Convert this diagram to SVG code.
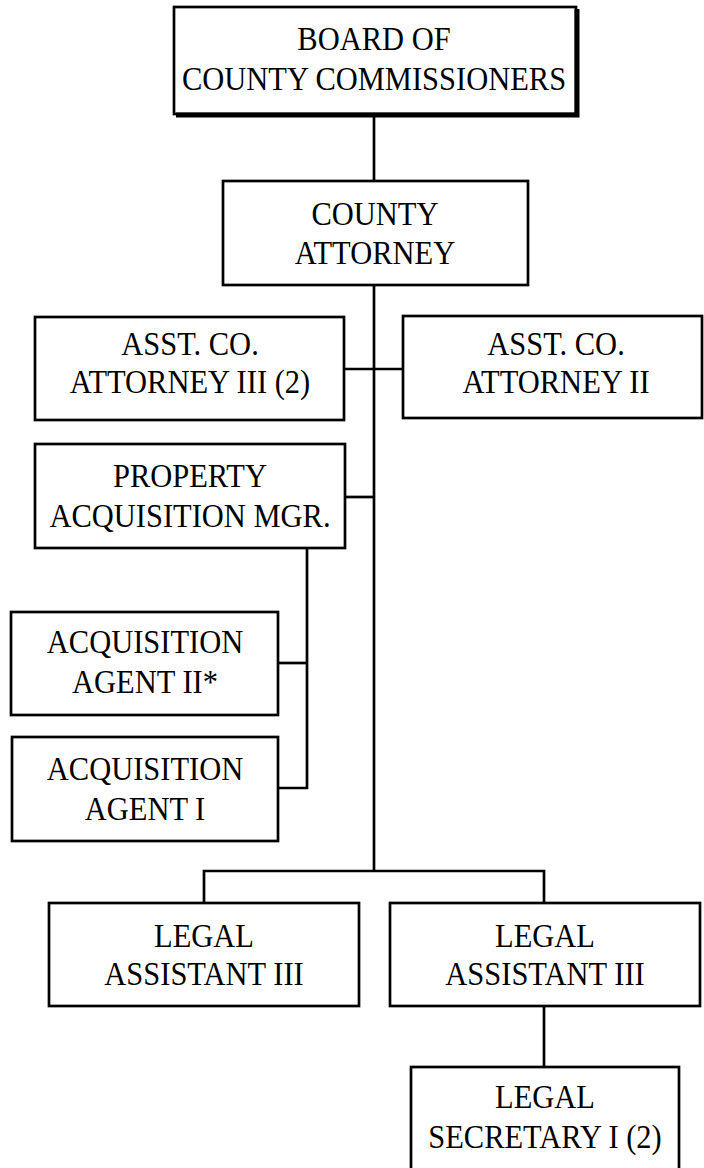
<svg xmlns="http://www.w3.org/2000/svg" width="704" height="1168" viewBox="0 0 704 1168">
  <style>
    .box { fill: #ffffff; stroke: #000000; stroke-width: 2.7; }
    .shadow { fill: none; stroke: #000000; stroke-width: 5; }
    .link { fill: none; stroke: #000000; stroke-width: 2.7; }
    .label { font-family: "Liberation Serif", "Times New Roman", serif; font-size: 30.5px; fill: #000000; text-anchor: middle; }
  </style>
  <rect x="0" y="0" width="704" height="1168" fill="#ffffff"/>

  <!-- reporting lines -->
  <g id="connectors">
    <line class="link" x1="374" y1="115" x2="374" y2="181"/>
    <line class="link" x1="374" y1="285" x2="374" y2="871"/>
    <line class="link" x1="344" y1="369" x2="403" y2="369"/>
    <line class="link" x1="345" y1="497" x2="374" y2="497"/>
    <polyline class="link" points="307,548 307,788 278,788"/>
    <line class="link" x1="278" y1="663" x2="307" y2="663"/>
    <polyline class="link" points="204,903 204,871 544,871 544,903"/>
    <line class="link" x1="544" y1="1006" x2="544" y2="1067"/>
  </g>

  <!-- labels are drawn slightly tall: scale(1 1.1) about each baseline -->
  <g id="board">
    <rect class="box" x="174" y="7" width="402" height="107"/>
    <polyline class="shadow" points="176,115 577,115 577,9"/>
    <text class="label" transform="translate(374 50) scale(1 1.1)">BOARD OF</text>
    <text class="label" transform="translate(374 90) scale(1 1.1)">COUNTY COMMISSIONERS</text>
  </g>

  <g id="county-attorney">
    <rect class="box" x="223" y="181" width="305" height="104"/>
    <text class="label" transform="translate(375 225) scale(1 1.1)">COUNTY</text>
    <text class="label" transform="translate(375 264) scale(1 1.1)">ATTORNEY</text>
  </g>

  <g id="asst-attorney-3">
    <rect class="box" x="35" y="317" width="309" height="103"/>
    <text class="label" transform="translate(190 355) scale(1 1.1)">ASST. CO.</text>
    <text class="label" transform="translate(190 393) scale(1 1.1)">ATTORNEY III (2)</text>
  </g>

  <g id="asst-attorney-2">
    <rect class="box" x="403" y="316" width="299" height="102"/>
    <text class="label" transform="translate(556 355) scale(1 1.1)">ASST. CO.</text>
    <text class="label" transform="translate(556 393) scale(1 1.1)">ATTORNEY II</text>
  </g>

  <g id="property-mgr">
    <rect class="box" x="35" y="444" width="310" height="104"/>
    <text class="label" transform="translate(190 487) scale(1 1.1)">PROPERTY</text>
    <text class="label" transform="translate(190 527) scale(1 1.1)">ACQUISITION MGR.</text>
  </g>

  <g id="agent-2">
    <rect class="box" x="11" y="612" width="267" height="103"/>
    <text class="label" transform="translate(145 653) scale(1 1.1)">ACQUISITION</text>
    <text class="label" transform="translate(145 693) scale(1 1.1)">AGENT II*</text>
  </g>

  <g id="agent-1">
    <rect class="box" x="12" y="737" width="266" height="104"/>
    <text class="label" transform="translate(145 780) scale(1 1.1)">ACQUISITION</text>
    <text class="label" transform="translate(145 820) scale(1 1.1)">AGENT I</text>
  </g>

  <g id="legal-assistant-left">
    <rect class="box" x="49" y="903" width="310" height="103"/>
    <text class="label" transform="translate(204 947) scale(1 1.1)">LEGAL</text>
    <text class="label" transform="translate(204 985) scale(1 1.1)">ASSISTANT III</text>
  </g>

  <g id="legal-assistant-right">
    <rect class="box" x="390" y="903" width="310" height="103"/>
    <text class="label" transform="translate(545 947) scale(1 1.1)">LEGAL</text>
    <text class="label" transform="translate(545 985) scale(1 1.1)">ASSISTANT III</text>
  </g>

  <g id="legal-secretary">
    <rect class="box" x="411" y="1067" width="268" height="104"/>
    <text class="label" transform="translate(545 1108) scale(1 1.1)">LEGAL</text>
    <text class="label" transform="translate(545 1148) scale(1 1.1)">SECRETARY I (2)</text>
  </g>
</svg>
